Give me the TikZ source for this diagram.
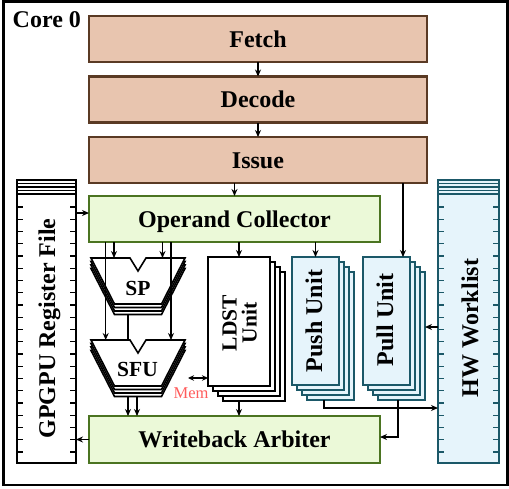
\documentclass[tikz,border=0pt]{standalone}
\usepackage{fontspec}
\setmainfont{Liberation Serif}
\usetikzlibrary{arrows.meta}
\definecolor{stagefill}{HTML}{E8C5AF}
\definecolor{stageline}{HTML}{5A3A24}
\definecolor{ocfill}{HTML}{EBF9D8}
\definecolor{ocline}{HTML}{4B7421}
\definecolor{hwfill}{HTML}{E6F4FB}
\definecolor{hwline}{HTML}{1B5868}
\definecolor{memred}{HTML}{FF5C5C}
\tikzset{
  bigtext/.style={font=\fontsize{24}{27}\selectfont\bfseries},
  midtext/.style={font=\fontsize{21.5}{20}\selectfont\bfseries},
  wide/.style={bigtext, inner sep=0pt, outer sep=0pt, text height=16pt, text depth=0pt},
  stagebox/.style={wide, draw=stageline, fill=stagefill, line width=2.4pt,
    minimum width=338pt, minimum height=46pt},
  ocbox/.style={wide, draw=ocline, fill=ocfill, line width=2.4pt,
    minimum width=291pt, minimum height=46pt},
  column/.style={inner sep=0pt, outer sep=0pt, minimum height=283pt, line width=1.8pt},
  ldstbox/.style={draw=black, fill=white, line width=1.6pt, inner sep=0pt, outer sep=0pt,
    minimum width=62pt, minimum height=129pt},
  hwbox/.style={draw=hwline, fill=hwfill, line width=2pt, inner sep=0pt, outer sep=0pt,
    minimum width=47pt, minimum height=128pt},
  alushape/.style={draw=black, fill=white, line width=1.6pt},
  wire/.style={line width=1.2pt, -{Stealth[length=7pt,width=6pt]}},
  bus/.style={line width=1.2pt},
  tickline/.style={line width=1.4pt},
  % ALU outline with three copies stacked underneath
  pics/alu/.style={code={
    \foreach \k in {3,2,1,0}
      \draw[alushape] (-47,3.5*\k) -- (-8,3.5*\k) -- (0,13+3.5*\k) -- (8,3.5*\k)
        -- (47,3.5*\k) -- (23.5,46+3.5*\k) -- (-23.5,46+3.5*\k) -- cycle;
  }},
  % header stripes and side ticks of a storage column (#1 = half width)
  pics/ticks/.style={code={
    \foreach \yy in {3.5,7,10.5,14}
      \draw[tickline] (-#1,\yy) -- (#1,\yy);
    \foreach \i in {0,...,20} {
      \draw[tickline] (-#1,27+12.25*\i) -- ++(6,0);
      \draw[tickline] (#1,27+12.25*\i) -- ++(-6,0);
    }
  }},
}
\begin{document}
\begin{tikzpicture}[x=1pt,y=-1pt]
\useasboundingbox (0,0) rectangle (509,488);
\draw[line width=2.5pt] (3.5,1.5) rectangle (507.5,485);
\node[bigtext, anchor=west, inner sep=0pt] (core) at (12.5,19.5) {Core 0};

% pipeline front end
\node[stagebox] (fetch) at (258,39) {Fetch};
\node[stagebox] (decode) at (258,99.5) {Decode};
\node[stagebox] (issue) at (258,160) {Issue};
\node[ocbox] (oc) at (234.5,219) {Operand Collector};
\node[ocbox, minimum height=47pt] (wb) at (234.5,439.5) {Writeback Arbiter};

% register file and hardware worklist
\node[column, draw=black, fill=white, minimum width=59pt] (rf) at (46.5,321.5) {};
\pic[color=black] at (46.5,180) {ticks=29.5};
\node[bigtext, rotate=90, anchor=base, inner sep=0pt] (rflabel) at (55,328.5) {GPGPU Register File};
\node[column, draw=hwline, fill=hwfill, minimum width=61pt] (hw) at (468.5,321.5) {};
\pic[color=hwline] at (468.5,180) {ticks=30.5};
\node[bigtext, rotate=90, anchor=base, inner sep=0pt] (hwlabel) at (478,328) {HW Worklist};

% execution units
\pic at (138,258) {alu};
\pic at (138,340) {alu};
\node[midtext, inner sep=0pt] (sp) at (138,288) {SP};
\node[midtext, inner sep=0pt] (sfu) at (137.5,369.5) {SFU};

\foreach \k in {3,2,1}
  \node[ldstbox] (ldst\k) at ({239+5*\k},{321.5+5*\k}) {};
\node[ldstbox] (ldst) at (239,321.5) {};
\node[midtext, rotate=90, align=center, inner sep=0pt] (ldstlabel) at (239.5,323) {LDST\\Unit};

\foreach \k in {3,2,1}
  \node[hwbox] (push\k) at ({315.5+5*\k},{321+5*\k}) {};
\node[hwbox] (push) at (315.5,321) {};
\node[bigtext, rotate=90, anchor=base, inner sep=0pt] (pushlabel) at (322,321) {Push Unit};

\foreach \k in {3,2,1}
  \node[hwbox] (pull\k) at ({386.5+5*\k},{321+5*\k}) {};
\node[hwbox] (pull) at (386.5,321) {};
\node[bigtext, rotate=90, anchor=base, inner sep=0pt] (pulllabel) at (393,320) {Pull Unit};

\node[text=memred, font=\fontsize{16.5}{18}\selectfont, inner sep=0pt] (mem) at (191,393) {Mem};

% connection points
\coordinate (spinA) at (114,258);
\coordinate (spinB) at (162.5,258);
\coordinate (sfuinA) at (105.7,340);
\coordinate (sfuinB) at (171,340);
\coordinate (spout) at (128,314.5);
\coordinate (sfulink) at (128,340);
\coordinate (sfuoutA) at (128,396.5);
\coordinate (sfuoutB) at (137,396.5);
\coordinate (ldstout) at (239,401);
\coordinate (pushout) at (324,400);
\coordinate (pullout) at (398,400);
\coordinate (pullin) at (403,257);
\coordinate (rfrow) at (0,213);
\coordinate (pushrow) at (0,408);
\coordinate (pullrow) at (0,437);
\coordinate (hwrow) at (0,327);
\coordinate (memtip) at (188,378);

% wiring
\draw[wire] (fetch) -- (decode);
\draw[wire] (decode) -- (issue);
\draw[wire] (issue.south -| oc.north) -- (oc.north);
\draw[wire] (issue.south -| pullin) -- (pullin);
\draw[wire] (oc.south -| ldst.north) -- (ldst.north);
\draw[wire] (oc.south -| push.north) -- (push.north);
\draw[wire] (oc.south -| spinA) -- (spinA);
\draw[wire] (oc.south -| spinB) -- (spinB);
\draw[wire] (oc.south -| sfuinA) -- (sfuinA);
\draw[wire] (oc.south -| sfuinB) -- (sfuinB);
\draw[bus] (spout) -- (sfulink);
\draw[wire] (sfuoutA) -- (wb.north -| sfuoutA);
\draw[wire] (sfuoutB) -- (wb.north -| sfuoutB);
\draw[wire] (ldstout) -- (wb.north -| ldstout);
\draw[wire] (rf.east |- rfrow) -- (oc.west |- rfrow);
\draw[wire] (wb.west) -- (rf.east |- wb.west);
\draw[wire] (hw.west |- hwrow) -- (pull3.east |- hwrow);
\draw[wire] (pushout) |- (hw.west |- pushrow);
\draw[wire] (pullout) |- (wb.east |- pullrow);
\draw[line width=1.2pt, {Stealth[length=6pt,width=5.5pt]}-{Stealth[length=6pt,width=5.5pt]}]
  (memtip) -- (ldst.west |- memtip);
\end{tikzpicture}
\end{document}
